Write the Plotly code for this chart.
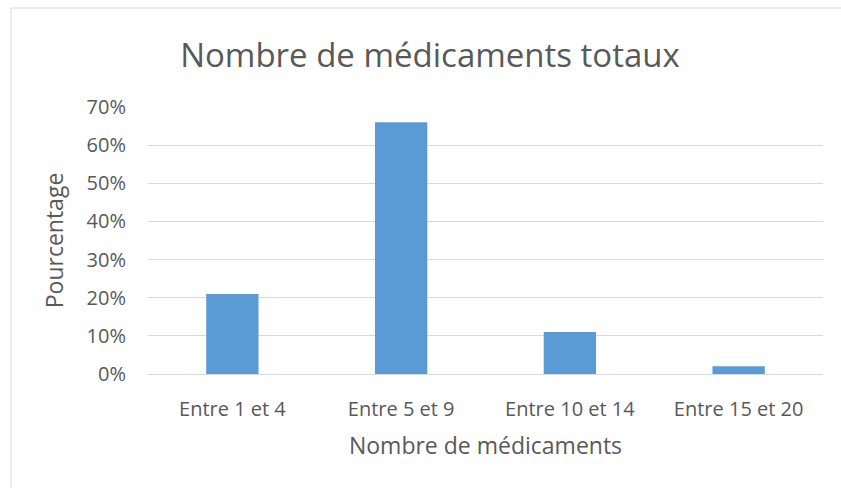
import plotly.graph_objects as go

# ── Données ──────────────────────────────────────────────────────────────────
categories = ["Entre 1 et 4", "Entre 5 et 9", "Entre 10 et 14", "Entre 15 et 20"]
pourcentages = [0.21, 0.66, 0.11, 0.02]
y_ticks = [0, 0.1, 0.2, 0.3, 0.4, 0.5, 0.6, 0.7]

W, H = 841, 488
L, R, T, B = 148, 18, 107, 114
pw, ph = W - L - R, H - T - B

def px_x(x):
    return (x - L) / pw

def px_y(y):
    return (H - B - y) / ph

FONT = "Open Sans"
GREY = "#595959"

fig = go.Figure()
fig.add_trace(go.Bar(
    x=categories, y=pourcentages,
    marker=dict(color="#5b9bd5", line=dict(width=0)),
    hovertemplate="%{x}: %{y:.0%}<extra></extra>",
))

fig.update_layout(
    width=W, height=H,
    margin=dict(l=L, r=R, t=T, b=B),
    plot_bgcolor="white",
    paper_bgcolor="white",
    bargap=0.69,
    showlegend=False,
    font=dict(family=FONT, color=GREY, size=20),
    title=dict(
        text="Nombre de médicaments totaux",
        font=dict(family=FONT, size=33, color=GREY),
        x=430 / W, xanchor="center",
        y=1 - 55 / H, yanchor="middle",
    ),
    xaxis=dict(
        title=dict(text="Nombre de médicaments", font=dict(size=23, color=GREY), standoff=16),
        tickfont=dict(size=20, color=GREY),
        showline=False, showgrid=False, ticks="",
        ticklabelstandoff=21,
        automargin=False,
    ),
    yaxis=dict(
        title=dict(text="Pourcentage", font=dict(size=23, color=GREY), standoff=16),
        tickvals=y_ticks, tickformat=".0%",
        range=[0, 0.7],
        tickfont=dict(size=20, color=GREY),
        gridcolor="#d9d9d9", gridwidth=1,
        zeroline=True, zerolinecolor="#d9d9d9", zerolinewidth=1,
        showline=False, ticks="", ticklen=0,
        ticklabelstandoff=21,
        automargin=False,
    ),
    shapes=[
        dict(type="line", xref="paper", yref="paper",
             x0=px_x(11), x1=px_x(W + 5), y0=px_y(8), y1=px_y(8),
             line=dict(color="#d9d9d9", width=1)),
        dict(type="line", xref="paper", yref="paper",
             x0=px_x(11), x1=px_x(11), y0=px_y(8), y1=px_y(H + 5),
             line=dict(color="#d9d9d9", width=1)),
    ],
)

fig.write_html("out.html", config={"displayModeBar": False},
               post_script="document.body.style.margin='0';")
